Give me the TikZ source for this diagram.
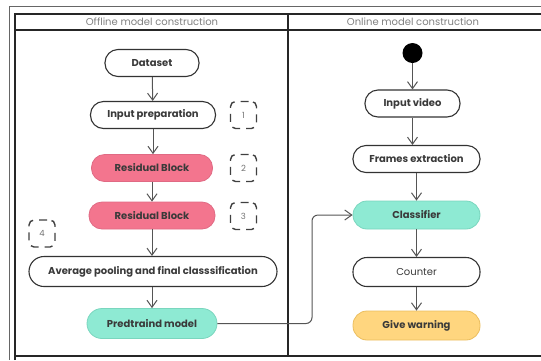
\documentclass[tikz,border=0pt]{standalone}
\usepackage{fontspec}
\setmainfont{Poppins}
\usetikzlibrary{arrows.meta,calc}
\definecolor{lineg}{HTML}{555555}
\definecolor{pinkf}{HTML}{F3758E}
\definecolor{pinkd}{HTML}{E06A84}
\definecolor{tealf}{HTML}{8EEAD3}
\definecolor{teald}{HTML}{7AD6BE}
\definecolor{yelf}{HTML}{FFD67F}
\definecolor{yeld}{HTML}{EBBE5E}
\definecolor{txt}{HTML}{3A3A3A}
\tikzset{
  act/.style={draw=black!80, line width=1.1pt, fill=white, rounded corners=13pt,
    minimum height=27pt, inner sep=2pt, font=\fontsize{10}{12}\selectfont\bfseries, text=txt},
  pinkact/.style={act, draw=pinkd, fill=pinkf, line width=0.8pt},
  tealact/.style={act, draw=teald, fill=tealf, line width=0.8pt},
  yelact/.style={act, draw=yeld, fill=yelf, line width=0.8pt},
  numbox/.style={draw=black!75, line width=1.4pt, dash pattern=on 8pt off 6pt, dash phase=-3pt,
    rounded corners=5pt, minimum width=26pt, minimum height=27pt, inner sep=0pt,
    font=\fontsize{8.5}{10}\selectfont, text=black!55},
  flow/.style={draw=lineg, line width=1pt, -{Straight Barb[length=7pt,width=10pt,line width=1pt]}},
  ttl/.style={font=\fontsize{10}{12}\selectfont, text=black!50, inner sep=0pt},
  frame/.style={draw=black!85, line width=1.1pt}
}
\begin{document}
\begin{tikzpicture}[x=1pt,y=-1pt]
\useasboundingbox (0,0) rectangle (541,360);
% frames
\draw[draw=black!60, line width=1pt] (9,360) -- (9,6) -- (541,6);
\draw[frame] (15,360) -- (15,14) -- (541,14);
\draw[frame] (15,356) -- (541,356);
\draw[frame] (15,30) -- (541,30);
\draw[frame] (288,14) -- (288,356);
\node[ttl] (t1) at (152,22) {Offline model construction};
\node[ttl] (t2) at (413,22) {Online model construction};
% left column
\node[act, minimum width=94pt] (ds) at (152,63) {Dataset};
\node[act, minimum width=125pt] (ip) at (153,115) {Input preparation};
\node[pinkact, minimum width=121pt] (rb1) at (152,168) {Residual Block};
\node[pinkact, minimum width=126pt] (rb2) at (152,215.5) {Residual Block};
\node[act, minimum width=248pt, minimum height=30pt, rounded corners=15pt] (ap) at (153,271.5) {Average pooling and final classsification};
\node[tealact, minimum width=130pt, minimum height=30pt, rounded corners=15pt] (pm) at (152,323.5) {Predtraind model};
\node[numbox] (n1) at (243.5,115) {1};
\node[numbox] (n2) at (243.5,168) {2};
\node[numbox] (n3) at (243.5,216) {3};
\node[numbox] (n4) at (42,233.5) {4};
\draw[flow] (ds) -- (ip);
\draw[flow] (ip) -- (ip |- rb1.north);
\draw[flow] (rb1) -- (rb2);
\draw[flow] (rb2) -- (rb2 |- ap.north);
\draw[flow] (ap.south -| pm) -- (pm);
% right column
\node[circle, fill=black, minimum size=20pt, inner sep=0pt] (st) at (412.5,53) {};
\node[act, minimum width=95pt] (iv) at (412.5,103.5) {Input video};
\node[act, minimum width=127pt] (fe) at (416.5,159) {Frames extraction};
\node[tealact, minimum width=127pt, minimum height=28pt, rounded corners=14pt] (cl) at (416.5,215) {Classifier};
\node[act, minimum width=127pt, minimum height=29pt, rounded corners=14pt, font=\fontsize{10}{12}\selectfont] (co) at (416.5,272) {Counter};
\node[yelact, minimum width=127pt, minimum height=29pt, rounded corners=14pt] (gw) at (416.5,325.5) {Give warning};
\draw[flow] (st) -- (iv);
\draw[flow] (iv) -- (iv |- fe.north);
\draw[flow] (fe) -- (cl);
\draw[flow] (cl) -- (co);
\draw[flow] (co) -- (gw);
\coordinate (bend) at (312,0);
\draw[flow, rounded corners=6pt] (pm.east) -- (pm.east -| bend) -- (bend |- cl.west) -- (cl.west);
\end{tikzpicture}
\end{document}
